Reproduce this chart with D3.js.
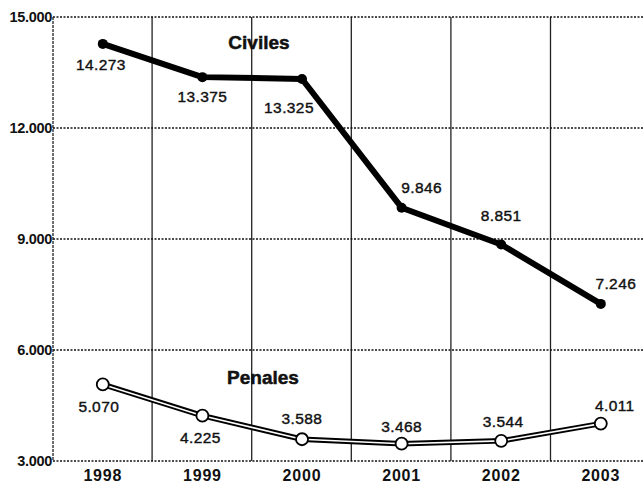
<!DOCTYPE html>
<html>
<head>
<meta charset="utf-8">
<script src="https://cdn.jsdelivr.net/npm/d3@7"></script>
<style>
  body { margin: 0; background: #fff; }
  svg text { font-family: "Liberation Sans", Arial, Helvetica, sans-serif; fill: #111; }
</style>
</head>
<body>
<div id="chart"></div>
<script>
var width = 644;
var height = 485;

// datos
var years = ["1998", "1999", "2000", "2001", "2002", "2003"];
var civiles = [14273, 13375, 13325, 9846, 8851, 7246];
var penales = [5070, 4225, 3588, 3468, 3544, 4011];
var civilesLabels = ["14.273", "13.375", "13.325", "9.846", "8.851", "7.246"];
var penalesLabels = ["5.070", "4.225", "3.588", "3.468", "3.544", "4.011"];
var yTicks = [3000, 6000, 9000, 12000, 15000];
var yTickLabels = ["3.000", "6.000", "9.000", "12.000", "15.000"];

var svg = d3.select("#chart").append("svg")
    .attr("width", width)
    .attr("height", height);

var plotLeft = 53;
var xScale = d3.scaleBand().domain(years).range([plotLeft, plotLeft + 6 * 99.6]);
var yScale = d3.scaleLinear().domain([3000, 15000]).range([461, 17]);
var cx = function (i) { return xScale(years[i]) + xScale.bandwidth() / 2; };

// lineas verticales entre años
svg.append("g").selectAll("line")
    .data(years.slice(1))
    .enter().append("line")
    .attr("x1", function (d) { return xScale(d) - 0.5; })
    .attr("x2", function (d) { return xScale(d) - 0.5; })
    .attr("y1", yScale(15000))
    .attr("y2", yScale(3000))
    .attr("stroke", "#222")
    .attr("stroke-width", 1.3);

// rejilla horizontal punteada
svg.append("g").selectAll("line")
    .data(yTicks)
    .enter().append("line")
    .attr("x1", plotLeft)
    .attr("x2", width)
    .attr("y1", function (d) { return yScale(d); })
    .attr("y2", function (d) { return yScale(d); })
    .attr("stroke", "#111")
    .attr("stroke-width", 1.3)
    .attr("stroke-dasharray", "2,1.5");

// eje y
svg.append("line")
    .attr("x1", plotLeft).attr("x2", plotLeft)
    .attr("y1", yScale(15000)).attr("y2", yScale(3000))
    .attr("stroke", "#222").attr("stroke-width", 1.3)
    .attr("stroke-dasharray", "3,1");

svg.append("g").selectAll("text")
    .data(yTicks)
    .enter().append("text")
    .attr("x", plotLeft - 1)
    .attr("y", function (d) { return yScale(d); })
    .attr("dy", "0.36em")
    .attr("text-anchor", "end")
    .style("font-size", "14.5px")
    .style("font-weight", "bold")
    .style("letter-spacing", "-0.3px")
    .text(function (d, i) { return yTickLabels[i]; });

// años
svg.append("g").selectAll("text")
    .data(years)
    .enter().append("text")
    .attr("x", function (d, i) { return cx(i); })
    .attr("y", 481)
    .attr("text-anchor", "middle")
    .style("font-size", "16px")
    .style("font-weight", "bold")
    .style("letter-spacing", "0.8px")
    .text(function (d) { return d; });

var line = d3.line()
    .x(function (d, i) { return cx(i); })
    .y(function (d) { return yScale(d); });

// Civiles
svg.append("path")
    .datum(civiles)
    .attr("d", line)
    .attr("fill", "none")
    .attr("stroke", "#000")
    .attr("stroke-width", 6)
    .attr("stroke-linejoin", "round");

svg.append("g").selectAll("circle")
    .data(civiles)
    .enter().append("circle")
    .attr("cx", function (d, i) { return cx(i); })
    .attr("cy", function (d) { return yScale(d); })
    .attr("r", 5)
    .attr("fill", "#000");

// Penales (línea doble)
svg.append("path")
    .datum(penales)
    .attr("d", line)
    .attr("fill", "none")
    .attr("stroke", "#000")
    .attr("stroke-width", 5.5);
svg.append("path")
    .datum(penales)
    .attr("d", line)
    .attr("fill", "none")
    .attr("stroke", "#fff")
    .attr("stroke-width", 1.6);

svg.append("g").selectAll("circle")
    .data(penales)
    .enter().append("circle")
    .attr("cx", function (d, i) { return cx(i); })
    .attr("cy", function (d) { return yScale(d); })
    .attr("r", 6)
    .attr("fill", "#fff")
    .attr("stroke", "#000")
    .attr("stroke-width", 1.8);

// etiquetas de valores (desplazamiento respecto al punto)
var civilesOffsets = [[-2, 26], [0, 25], [-13, 34], [20, -15], [0, -24], [15, -15]];
var penalesOffsets = [[-4, 28], [-2, 27], [0, -15], [0, -12], [2, -14], [14, -13]];

function valueLabels(vals, labels, offsets) {
    svg.append("g").selectAll("text")
        .data(vals)
        .enter().append("text")
        .attr("x", function (d, i) { return cx(i) + offsets[i][0]; })
        .attr("y", function (d, i) { return yScale(d) + offsets[i][1]; })
        .attr("text-anchor", "middle")
        .style("font-size", "15.5px")
        .style("letter-spacing", "0.4px")
        .style("stroke", "#111")
        .style("stroke-width", "0.4px")
        .text(function (d, i) { return labels[i]; });
}
valueLabels(civiles, civilesLabels, civilesOffsets);
valueLabels(penales, penalesLabels, penalesOffsets);

// nombres de series
svg.append("text")
    .attr("x", 259).attr("y", 49)
    .attr("text-anchor", "middle")
    .style("font-size", "19px")
    .style("font-weight", "bold")
    .style("stroke", "#111")
    .style("stroke-width", "0.5px")
    .text("Civiles");
svg.append("text")
    .attr("x", 263).attr("y", 384)
    .attr("text-anchor", "middle")
    .style("font-size", "19px")
    .style("font-weight", "bold")
    .style("stroke", "#111")
    .style("stroke-width", "0.5px")
    .text("Penales");
</script>
</body>
</html>
